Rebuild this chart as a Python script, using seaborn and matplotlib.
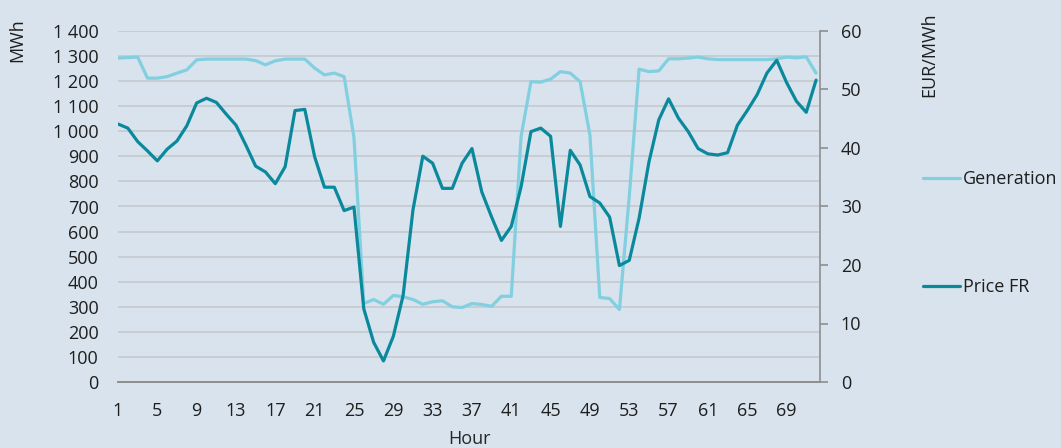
"""Hourly generation vs. French day-ahead price, 72 hours."""

import matplotlib
matplotlib.use("Agg")
import matplotlib.pyplot as plt
import pandas as pd
import seaborn as sns

HOURS = list(range(1, 73))
GENERATION = [
    1292, 1294, 1296, 1212, 1212, 1218, 1232, 1245, 1285, 1288,
    1288, 1288, 1288, 1288, 1282, 1265, 1281, 1288, 1288, 1288,
    1252, 1225, 1232, 1218, 975, 313, 329, 310, 345, 340,
    329, 310, 320, 324, 300, 297, 313, 309, 302, 342,
    342, 980, 1198, 1196, 1208, 1238, 1232, 1198, 985, 337,
    333, 289, 740, 1248, 1238, 1241, 1289, 1289, 1292, 1296,
    1289, 1286, 1286, 1286, 1286, 1286, 1286, 1289, 1296, 1293, 1297, 1232,
]
PRICE_FR = [
    44.1, 43.4, 41.1, 39.5, 37.8, 39.8, 41.2, 43.8, 47.7, 48.5,
    47.8, 45.8, 43.9, 40.5, 36.9, 35.9, 33.9, 36.8, 46.4, 46.6,
    38.5, 33.3, 33.3, 29.3, 29.9, 12.5, 6.8, 3.6, 7.8, 14.8,
    29.4, 38.6, 37.4, 33.1, 33.1, 37.4, 39.9, 32.5, 28.2, 24.2,
    26.6, 33.4, 42.8, 43.4, 42.0, 26.6, 39.6, 37.1, 31.7, 30.6,
    28.2, 19.9, 20.8, 28.0, 37.6, 44.8, 48.4, 45.1, 42.8, 39.9,
    39.0, 38.8, 39.2, 43.9, 46.4, 49.1, 52.8, 55.0, 51.2, 48.0, 46.1, 51.6,
]
MWH_TICKS = list(range(0, 1401, 100))
EUR_TICKS = list(range(0, 61, 10))
SERIES_LABELS = ["Generation", "Price FR"]

BG = "#d8e3ed"
GEN_COLOR = "#82cfe0"
PRICE_COLOR = "#0a899c"
AXIS_GRAY = "#8e8e8e"
GRID_GRAY = "#c8cdd3"
TEXT = "#1e1e1e"

sns.set_style("white", {"axes.facecolor": BG, "figure.facecolor": BG})
plt.rcParams["font.family"] = ["Open Sans", "DejaVu Sans"]
plt.rcParams["font.size"] = 13
plt.rcParams["text.color"] = TEXT

df = pd.DataFrame({"Hour": HOURS, "Generation": GENERATION, "Price FR": PRICE_FR})

fig = plt.figure(figsize=(10.61, 4.48), dpi=100)
ax = fig.add_axes([118 / 1061, 66 / 448, 702 / 1061, 351 / 448])
ax2 = ax.twinx()

sns.lineplot(data=df, x="Hour", y="Generation", ax=ax, color=GEN_COLOR,
             lw=2.3, legend=False)
sns.lineplot(data=df, x="Hour", y="Price FR", ax=ax2, color=PRICE_COLOR,
             lw=2.3, legend=False)

# left axis: MWh, gridlines only
ax.set_xlim(1, 72.4)
ax.set_ylim(0, 1400)
ax.set_yticks(MWH_TICKS)
ax.set_yticklabels([f"{v:,}".replace(",", " ") for v in MWH_TICKS], color=TEXT)
ax.tick_params(axis="y", length=0, pad=14)
ax.grid(axis="y", color=GRID_GRAY, lw=1.4)
ax.set_axisbelow(True)
ax.set_ylabel("")

ax.set_xticks(HOURS)
ax.set_xticklabels([str(h) if (h - 1) % 4 == 0 else "" for h in HOURS], color=TEXT)
ax.tick_params(axis="x", length=4, width=1, color=AXIS_GRAY, pad=10.5)
ax.set_xlabel("Hour", labelpad=7)

# right axis: EUR/MWh
ax2.set_ylim(0, 60)
ax2.set_yticks(EUR_TICKS)
ax2.set_yticklabels([str(v) for v in EUR_TICKS], color=TEXT)
ax2.tick_params(axis="y", length=6, width=1.2, color=AXIS_GRAY, pad=9)
ax2.set_ylabel("")

for a in (ax, ax2):
    for side in ("top", "left"):
        a.spines[side].set_visible(False)
    a.spines["bottom"].set_color(AXIS_GRAY)
    a.spines["right"].set_color(AXIS_GRAY)
    a.spines["bottom"].set_linewidth(1.2)
    a.spines["right"].set_linewidth(1.2)
ax.spines["right"].set_visible(False)

fig.text(17.5 / 1061, 1 - 40 / 448, "MWh", rotation=90, ha="center", va="center")
fig.text(929 / 1061, 1 - 55 / 448, "EUR/MWh", rotation=90, ha="center", va="center")

handles = ax.get_lines()[:1] + ax2.get_lines()[:1]
fig.legend(handles, SERIES_LABELS, loc="upper left", fontsize=13,
           bbox_to_anchor=(923 / 1061, 1 - 170 / 448), frameon=False,
           borderpad=0, borderaxespad=0, handlelength=2.05, handletextpad=0.15,
           labelspacing=5.0)

plt.savefig("out.png", dpi=100, facecolor=BG)
plt.close()
